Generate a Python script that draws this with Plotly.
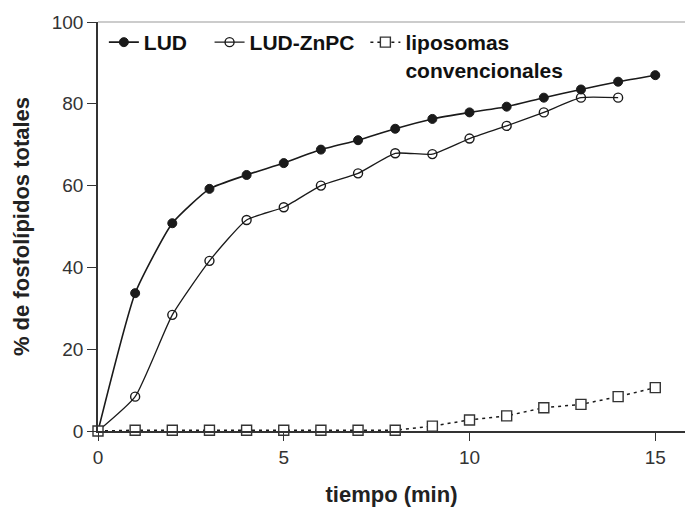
import plotly.graph_objects as go

tiempo = list(range(0, 16))
lud = [0, 33.7, 50.8, 59.2, 62.6, 65.5, 68.8, 71.1, 73.9, 76.3, 77.9, 79.3, 81.5, 83.5, 85.4, 87.0]
tiempo_znpc = list(range(0, 15))
lud_znpc = [0, 8.4, 28.4, 41.6, 51.6, 54.7, 60.0, 63.0, 67.9, 67.7, 71.5, 74.6, 77.9, 81.5, 81.5]
liposomas = [0, 0.2, 0.2, 0.2, 0.2, 0.2, 0.2, 0.2, 0.2, 1.2, 2.7, 3.7, 5.7, 6.5, 8.4, 10.6]

x_ticks = [0, 5, 10, 15]
y_ticks = [0, 20, 40, 60, 80, 100]

NB = "\u00a0"
ink = "#1a1a1a"
fig = go.Figure()
fig.add_trace(go.Scatter(
    x=tiempo, y=lud, name="<b>LUD</b>" + NB * 3, mode="lines+markers",
    line=dict(color=ink, width=1.6, shape="spline", smoothing=0.5),
    marker=dict(symbol="circle", size=9, color=ink, line=dict(color=ink, width=1)),
    cliponaxis=False))
fig.add_trace(go.Scatter(
    x=tiempo_znpc, y=lud_znpc, name="<b>LUD-ZnPC</b>" + NB, mode="lines+markers",
    line=dict(color=ink, width=1.3, shape="spline", smoothing=0.5),
    marker=dict(symbol="circle-open", size=9, color=ink, line=dict(color=ink, width=1.4)),
    cliponaxis=False))
fig.add_trace(go.Scatter(
    x=tiempo, y=liposomas, name="<b>liposomas<br>convencionales</b>", mode="lines+markers",
    line=dict(color=ink, width=1.5, dash="3px,4px"),
    marker=dict(symbol="square", size=10, color="white", line=dict(color="#333", width=1.4)),
    cliponaxis=False))

fig.add_shape(type="line", xref="paper", yref="paper", x0=0, x1=1, y0=1, y1=1,
              line=dict(color="#9a9a9a", width=1.2))

fig.update_layout(
    width=685, height=507,
    margin=dict(l=98, r=0, t=22, b=76),
    paper_bgcolor="white", plot_bgcolor="white",
    font=dict(family="Liberation Sans, Arial, sans-serif", color="#222"),
    showlegend=True,
    legend=dict(orientation="h", x=0.01, y=1.0, xanchor="left", yanchor="top",
                font=dict(size=21, color="#111"), itemwidth=30, bgcolor="rgba(0,0,0,0)",
                tracegroupgap=0, valign="top"),
    xaxis=dict(range=[0, 15.8], tickvals=x_ticks, ticks="outside", ticklen=8, tickwidth=1.2,
               tickcolor="#333", showline=True, linecolor="#333", linewidth=1.6,
               showgrid=False, zeroline=False, tickfont=dict(size=19, color="#333"),
               automargin=False,
               title=dict(text="<b>tiempo (min)</b>", font=dict(size=22, color="#222"), standoff=21)),
    yaxis=dict(range=[0, 100], tickvals=y_ticks, ticks="outside", ticklen=9, tickwidth=1.2,
               tickcolor="#333", showline=True, linecolor="#333", linewidth=1.6,
               showgrid=False, zeroline=False, tickfont=dict(size=19, color="#333"),
               automargin=False,
               title=dict(text="<b>% de fosfolípidos totales</b>", font=dict(size=22, color="#222"), standoff=16)),
)

fig.write_html("out.html")
